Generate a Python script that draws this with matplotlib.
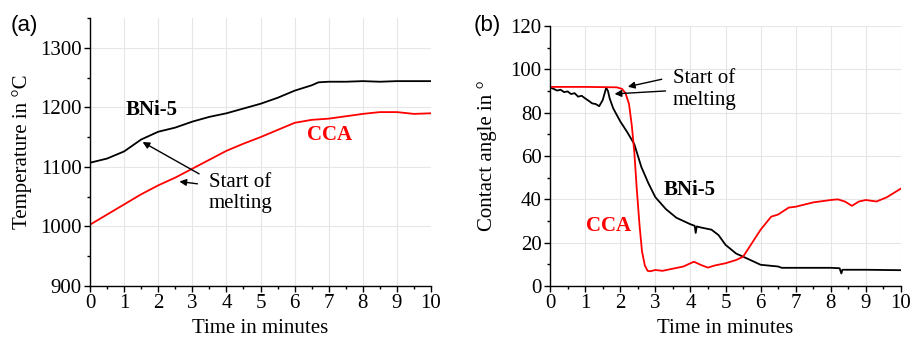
import numpy as np
import matplotlib.pyplot as plt
from matplotlib.ticker import MultipleLocator

# (a) temperature
t_bni = [0, 0.5, 1.0, 1.5, 2.0, 2.5, 3.0, 3.5, 4.0, 4.5, 5.0, 5.5, 6.0, 6.5, 6.7, 7.0, 7.5, 8.0, 8.5, 9.0, 9.5, 10.0]
temp_bni = [1107, 1114, 1126, 1146, 1159, 1166, 1176, 1184, 1190, 1198, 1206, 1216, 1228, 1237, 1242, 1243, 1243, 1244, 1243, 1244, 1244, 1244]
t_cca = [0, 0.5, 1.0, 1.5, 2.0, 2.5, 3.0, 3.5, 4.0, 4.5, 5.0, 5.5, 6.0, 6.5, 7.0, 7.5, 8.0, 8.5, 9.0, 9.5, 10.0]
temp_cca = [1003, 1020, 1037, 1054, 1069, 1082, 1097, 1112, 1127, 1139, 1150, 1162, 1174, 1179, 1181, 1185, 1189, 1192, 1192, 1189, 1190]

# (b) contact angle
t_bni_b = [0, 0.1, 0.2, 0.3, 0.4, 0.5, 0.6, 0.7, 0.8, 0.9, 1.0, 1.1, 1.2, 1.3, 1.4, 1.5, 1.6, 1.65, 1.7, 1.8, 1.9, 2.0,
           2.2, 2.4, 2.6, 2.8, 3.0, 3.3, 3.6, 4.0, 4.12, 4.15, 4.18, 4.3, 4.6, 4.8, 5.0, 5.3, 5.6, 6.0, 6.5, 6.6,
           7.0, 7.5, 8.0, 8.25, 8.3, 8.33, 8.5, 9.0, 9.5, 10.0]
ang_bni = [91.7, 91.0, 90.2, 90.6, 89.5, 89.8, 88.6, 89.0, 87.4, 87.8, 86.6, 85.5, 84.3, 84.0, 83.0, 85.8, 91.5, 90.0, 86.5, 82.0, 79.0, 76.0,
           71.0, 65.5, 55.0, 47.5, 41.0, 35.5, 31.5, 28.5, 27.8, 24.5, 27.5, 27.0, 26.0, 23.5, 19.0, 15.0, 12.8, 9.8, 9.0, 8.4,
           8.4, 8.4, 8.4, 8.2, 5.8, 7.5, 7.5, 7.5, 7.4, 7.3]
t_cca_b = [0, 0.5, 1.0, 1.5, 1.9, 2.05, 2.15, 2.25, 2.33, 2.4, 2.47, 2.55, 2.62, 2.7, 2.78, 2.85, 3.0, 3.2, 3.5, 3.8, 4.0,
           4.1, 4.3, 4.5, 4.7, 5.0, 5.3, 5.5, 5.8, 6.0, 6.3, 6.5, 6.8, 7.0, 7.5, 8.0, 8.2, 8.4, 8.6, 8.8, 9.0, 9.3, 9.6, 10.0]
ang_cca = [91.9, 91.9, 91.9, 91.8, 91.7, 91.0, 89.0, 84.0, 74.0, 62.0, 45.0, 28.0, 16.0, 9.5, 7.0, 6.8, 7.4, 7.0, 8.0, 9.0, 10.5,
           11.2, 9.7, 8.5, 9.5, 10.5, 12.0, 13.5, 21.0, 26.0, 32.0, 33.0, 36.2, 36.6, 38.6, 39.7, 40.0, 39.0, 37.0, 39.0, 39.7, 39.0, 41.0, 45.0]

plt.rcParams['font.family'] = ['Liberation Serif', 'DejaVu Serif']

FS = 15

fig = plt.figure(figsize=(9.14, 3.37), dpi=100)
ax1 = fig.add_axes([0.0985, 0.1513, 0.3731, 0.7953])
ax2 = fig.add_axes([0.6018, 0.1513, 0.3840, 0.7715])


def style(ax):
    ax.spines['top'].set_visible(False)
    ax.spines['right'].set_visible(False)
    ax.set_xlim(0, 10)
    ax.xaxis.set_major_locator(MultipleLocator(1))
    ax.xaxis.set_minor_locator(MultipleLocator(0.5))
    ax.grid(True, which='major', color='#e6e6e6', linewidth=0.8)
    ax.set_axisbelow(True)
    ax.tick_params(which='major', direction='out', length=4, width=1, labelsize=FS, pad=2)
    ax.tick_params(which='minor', direction='out', length=2.5, width=1)
    ax.set_xlabel('Time in minutes', fontsize=FS, labelpad=4)
    for s in ['left', 'bottom']:
        ax.spines[s].set_linewidth(1)


style(ax1)
ax1.plot(t_bni, temp_bni, color='black', lw=1.3)
ax1.plot(t_cca, temp_cca, color='red', lw=1.3)
ax1.set_ylim(900, 1350)
ax1.yaxis.set_major_locator(MultipleLocator(100))
ax1.yaxis.set_minor_locator(MultipleLocator(50))
ax1.set_ylabel('Temperature in °C', fontsize=FS, labelpad=6)
ax1.text(1.05, 1195, 'BNi-5', fontsize=FS, fontweight='bold', va='center')
ax1.text(6.36, 1153, 'CCA', fontsize=FS, fontweight='bold', color='red', va='center')
ax1.text(3.49, 1056, 'Start of\nmelting', fontsize=FS, va='center', linespacing=1.2)
arr = dict(arrowstyle='-|>', color='black', lw=1, mutation_scale=10)
ax1.annotate('', xy=(1.47, 1144), xytext=(3.27, 1086), arrowprops=arr)
ax1.annotate('', xy=(2.54, 1076), xytext=(3.23, 1071), arrowprops=arr)
fig.text(0.012, 0.925, '(a)', fontsize=16, family='Liberation Sans', va='center')

style(ax2)
ax2.plot(t_bni_b, ang_bni, color='black', lw=1.3)
ax2.plot(t_cca_b, ang_cca, color='red', lw=1.3)
ax2.set_ylim(0, 120)
ax2.yaxis.set_major_locator(MultipleLocator(20))
ax2.yaxis.set_minor_locator(MultipleLocator(10))
ax2.set_ylabel('Contact angle in °', fontsize=FS, labelpad=10)
ax2.text(3.23, 44.3, 'BNi-5', fontsize=FS, fontweight='bold', va='center')
ax2.text(1.03, 27.7, 'CCA', fontsize=FS, fontweight='bold', color='red', va='center')
ax2.text(3.5, 90.8, 'Start of\nmelting', fontsize=FS, va='center', linespacing=1.2)
ax2.annotate('', xy=(2.14, 91.7), xytext=(3.26, 95.7), arrowprops=arr)
ax2.annotate('', xy=(1.76, 88.6), xytext=(3.37, 90.1), arrowprops=arr)
fig.text(0.518, 0.925, '(b)', fontsize=16, family='Liberation Sans', va='center')

fig.savefig('out.png', dpi=100)
